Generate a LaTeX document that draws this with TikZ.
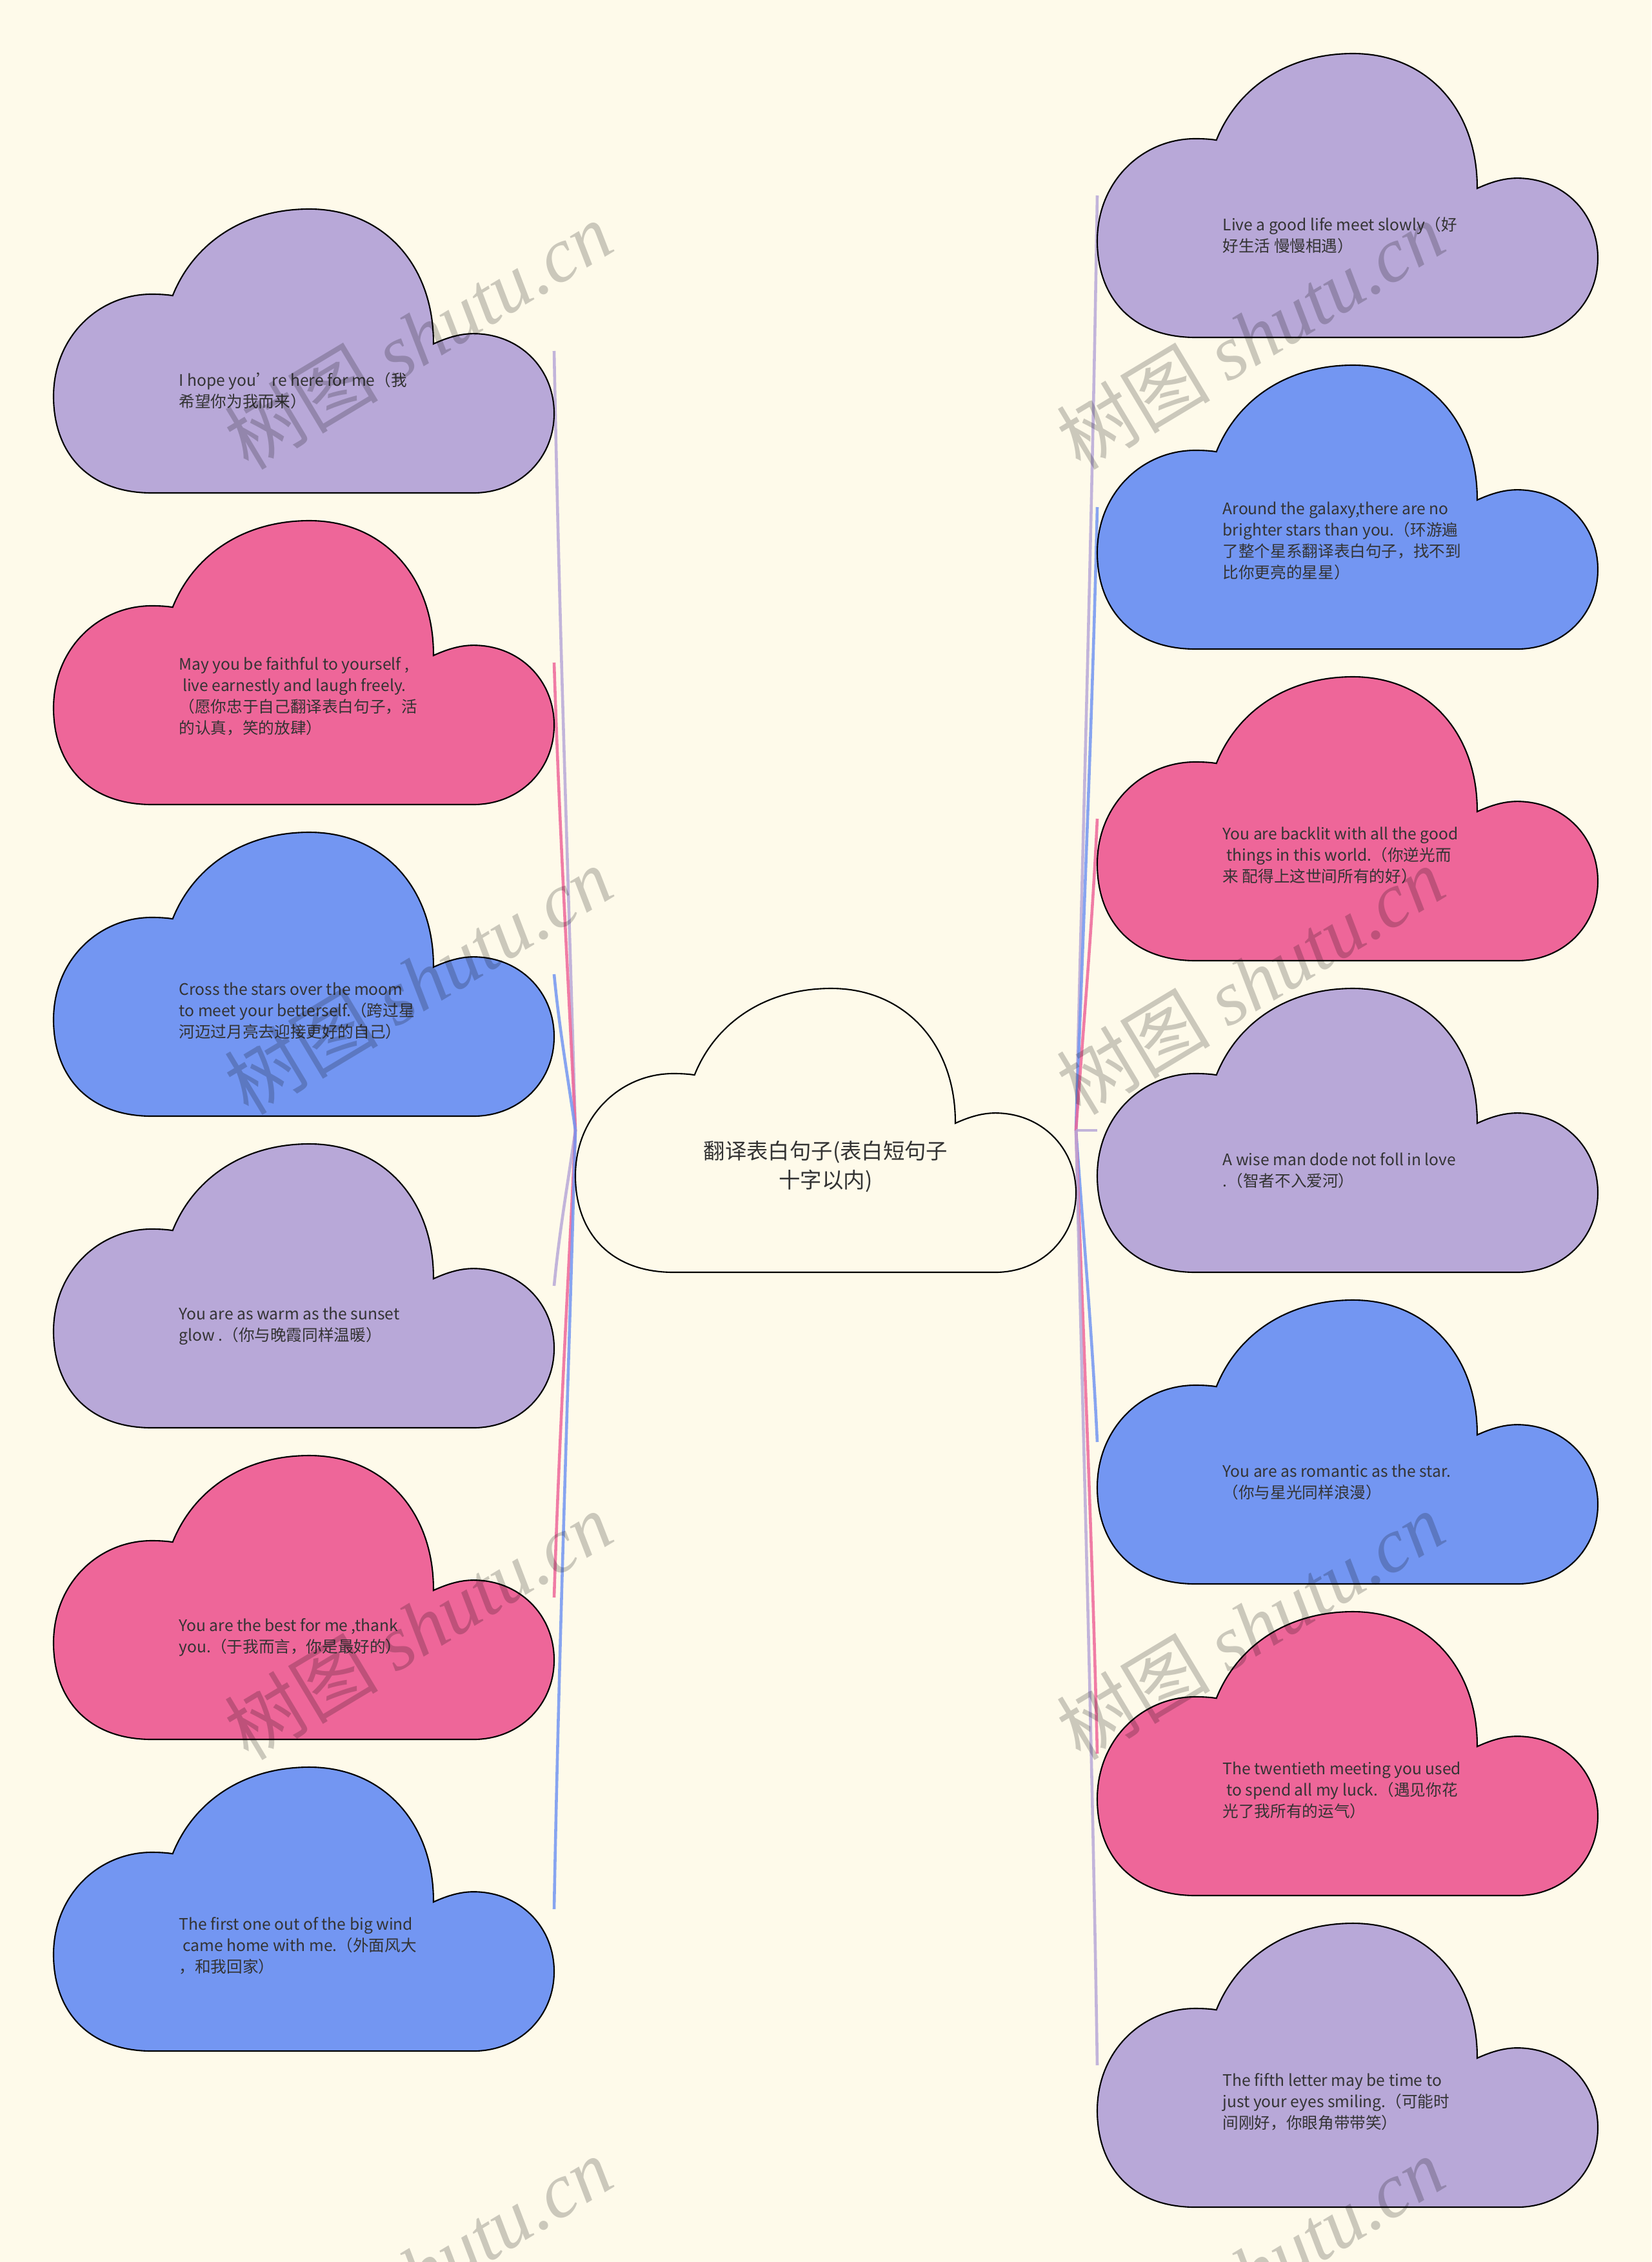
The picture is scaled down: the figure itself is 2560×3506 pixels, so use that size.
\documentclass[tikz,border=0pt]{standalone}
\usepackage{fontspec}
\setmainfont{Noto Sans CJK SC}
\newfontfamily\wmserif{Liberation Serif}
\definecolor{bgc}{HTML}{FEFAEA}
\definecolor{lav}{HTML}{B8A8D8}
\definecolor{pnk}{HTML}{EE6699}
\definecolor{blu}{HTML}{7396F2}
\definecolor{txt}{HTML}{333333}
\tikzset{
  cloudline/.style={draw=black, line width=0.6pt},
  ctext/.style={anchor=west, align=left, inner sep=0pt, text=txt, font=\fontsize{7.0}{9.4}\selectfont},
  roottext/.style={align=center, inner sep=0pt, text=txt, font=\fontsize{9.5}{12.7}\selectfont},
  link/.style={line width=1.3pt, opacity=0.85},
  wm/.style={rotate=31, text=black, opacity=0.2, inner sep=0pt, font=\fontsize{34}{40}\selectfont}
}
\newcommand\mycloud[3]{%
  \begin{scope}[shift={(#1,#2)}, xscale=776, yscale=440]
    \filldraw[cloudline, fill=#3] (0.196,1) .. controls (0.07,1) and (0,0.86) .. (0,0.66)
      .. controls (0,0.45) and (0.09,0.30) .. (0.196,0.30)
      .. controls (0.215,0.30) and (0.228,0.302) .. (0.238,0.305)
      .. controls (0.28,0.12) and (0.38,0) .. (0.511,0)
      .. controls (0.66,0) and (0.76,0.2) .. (0.759,0.475)
      .. controls (0.79,0.45) and (0.815,0.439) .. (0.839,0.439)
      .. controls (0.93,0.439) and (1,0.56) .. (1,0.72)
      .. controls (1,0.88) and (0.93,1) .. (0.839,1)
      -- cycle;
  \end{scope}}
\begin{document}
\begin{tikzpicture}[x=0.01cm, y=-0.01cm]
\fill[bgc] (0,0) rectangle (2560,3506);
\useasboundingbox (0,0) rectangle (2560,3506);
\clip (0,0) rectangle (2560,3506);

% connector anchors
\coordinate (rootL) at (892,1752);
\coordinate (rootR) at (1668,1752);
\coordinate (a-l1) at (859,544);
\coordinate (a-l2) at (859,1027);
\coordinate (a-l3) at (859,1510);
\coordinate (a-l4) at (859,1993);
\coordinate (a-l5) at (859,2476);
\coordinate (a-l6) at (859,2959);
\coordinate (a-r1) at (1701,303);
\coordinate (a-r2) at (1701,786);
\coordinate (a-r3) at (1701,1269);
\coordinate (a-r4) at (1701,1752);
\coordinate (a-r5) at (1701,2235);
\coordinate (a-r6) at (1701,2718);
\coordinate (a-r7) at (1701,3201);

% connectors
\draw[link, lav] (a-l1) .. controls +(8,423) and +(-12,-423) .. (rootL);
\draw[link, pnk] (a-l2) .. controls +(8,254) and +(-12,-254) .. (rootL);
\draw[link, blu] (a-l3) .. controls +(8,85) and +(-12,-85) .. (rootL);
\draw[link, lav] (a-l4) .. controls +(8,-84) and +(-12,84) .. (rootL);
\draw[link, pnk] (a-l5) .. controls +(8,-253) and +(-12,253) .. (rootL);
\draw[link, blu] (a-l6) .. controls +(8,-422) and +(-12,422) .. (rootL);
\draw[link, lav] (a-r1) .. controls +(-8,507) and +(12,-507) .. (rootR);
\draw[link, blu] (a-r2) .. controls +(-8,338) and +(12,-338) .. (rootR);
\draw[link, pnk] (a-r3) .. controls +(-8,169) and +(12,-169) .. (rootR);
\draw[link, lav] (a-r4) -- (rootR);
\draw[link, blu] (a-r5) .. controls +(-8,-169) and +(12,169) .. (rootR);
\draw[link, pnk] (a-r6) .. controls +(-8,-338) and +(12,338) .. (rootR);
\draw[link, lav] (a-r7) .. controls +(-8,-507) and +(12,507) .. (rootR);

% clouds
\mycloud{892}{1532}{bgc}
\mycloud{83}{324}{lav}
\mycloud{83}{807}{pnk}
\mycloud{83}{1290}{blu}
\mycloud{83}{1773}{lav}
\mycloud{83}{2256}{pnk}
\mycloud{83}{2739}{blu}
\mycloud{1701}{83}{lav}
\mycloud{1701}{566}{blu}
\mycloud{1701}{1049}{pnk}
\mycloud{1701}{1532}{lav}
\mycloud{1701}{2015}{blu}
\mycloud{1701}{2498}{pnk}
\mycloud{1701}{2981}{lav}

% texts
\node[roottext] (root) at (1280,1808) {翻译表白句子(表白短句子\\十字以内)};
\node[ctext] (l1) at (277,606) {I hope you’re here for me（我\\希望你为我而来）};
\node[ctext] (l2) at (277,1079) {May you be faithful to yourself ,\\\ live earnestly and laugh freely.\\（愿你忠于自己翻译表白句子，活\\的认真，笑的放肆）};
\node[ctext] (l3) at (277,1567) {Cross the stars over the moom\\to meet your betterself.（跨过星\\河迈过月亮去迎接更好的自己）};
\node[ctext] (l4) at (277,2055) {You are as warm as the sunset\\glow .（你与晚霞同样温暖）};
\node[ctext] (l5) at (277,2538) {You are the best for me ,thank\\you.（于我而言，你是最好的）};
\node[ctext] (l6) at (277,3016) {The first one out of the big wind\\\ came home with me.（外面风大\\，和我回家）};
\node[ctext] (r1) at (1895,365) {Live a good life meet slowly（好\\好生活 慢慢相遇）};
\node[ctext] (r2) at (1895,838) {Around the galaxy,there are no\\brighter stars than you.（环游遍\\了整个星系翻译表白句子，找不到\\比你更亮的星星）};
\node[ctext] (r3) at (1895,1326) {You are backlit with all the good\\\ things in this world.（你逆光而\\来 配得上这世间所有的好）};
\node[ctext] (r4) at (1895,1814) {A wise man dode not foll in love\\.（智者不入爱河）};
\node[ctext] (r5) at (1895,2297) {You are as romantic as the star.\\（你与星光同样浪漫）};
\node[ctext] (r6) at (1895,2775) {The twentieth meeting you used\\\ to spend all my luck.（遇见你花\\光了我所有的运气）};
\node[ctext] (r7) at (1895,3258) {The fifth letter may be time to\\just your eyes smiling.（可能时\\间刚好，你眼角带带笑）};

% watermarks
\foreach \wx/\wy [count=\i] in {648/520, 648/1520, 648/2520, 648/3520, 1938/520, 1938/1520, 1938/2520, 1938/3520}{
  \node[wm] (wm\i) at (\wx,\wy) {树图 {\wmserif\itshape shutu.cn}};
}
\end{tikzpicture}
\end{document}
